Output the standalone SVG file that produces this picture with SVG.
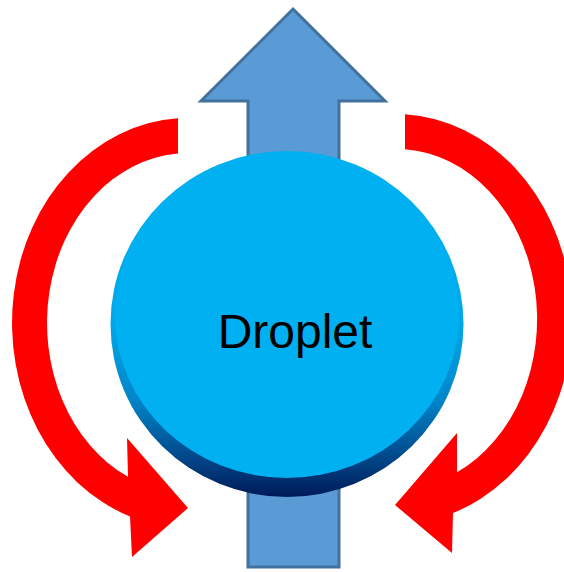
<svg xmlns="http://www.w3.org/2000/svg" width="564" height="572" viewBox="0 0 564 572">
  <style>
    .red { fill: #ff0000; stroke: none; }
    .flow { fill: #5b9bd5; stroke: #41719c; stroke-width: 3; stroke-linejoin: miter; }
    .label { font-family: "Liberation Sans", Arial, sans-serif; font-size: 48px; fill: #000000; text-anchor: middle; }
  </style>
  <defs>
    <linearGradient id="rim" x1="0" y1="151" x2="0" y2="497" gradientUnits="userSpaceOnUse">
      <stop offset="0" stop-color="#00b0f0"/>
      <stop offset="0.5" stop-color="#00a8e8"/>
      <stop offset="0.72" stop-color="#0085c8"/>
      <stop offset="0.88" stop-color="#004a8c"/>
      <stop offset="1" stop-color="#001a58"/>
    </linearGradient>
  </defs>
  <rect width="564" height="572" fill="#ffffff"/>
  <g id="flow-arrow">
    <polygon class="flow" points="293,9 385,101 339,101 339,567 248,567 248,101 201,101"/>
  </g>
  <g id="droplet">
    <ellipse cx="287" cy="324" rx="176.5" ry="173" fill="url(#rim)"/>
    <ellipse cx="287" cy="315" rx="172" ry="163" fill="#00b0f0"/>
    <text class="label" x="295" y="348">Droplet</text>
  </g>
  <g id="connectors">
    <g id="circulation-left">
      <path class="red" d="M 178 118.3 A 176 205 0 0 0 130 516.5 L 132 557 L 188 508 L 127 438 L 128 476.8 A 141 170 0 0 1 178 153.4 Z"/>
    </g>
    <g id="circulation-right">
      <path class="red" d="M 405 114.3 A 176 205 0 0 1 453 513 L 452 553 L 395 505 L 457 433 L 457 472.3 A 141 170 0 0 0 405 149.3 Z"/>
    </g>
  </g>
</svg>
